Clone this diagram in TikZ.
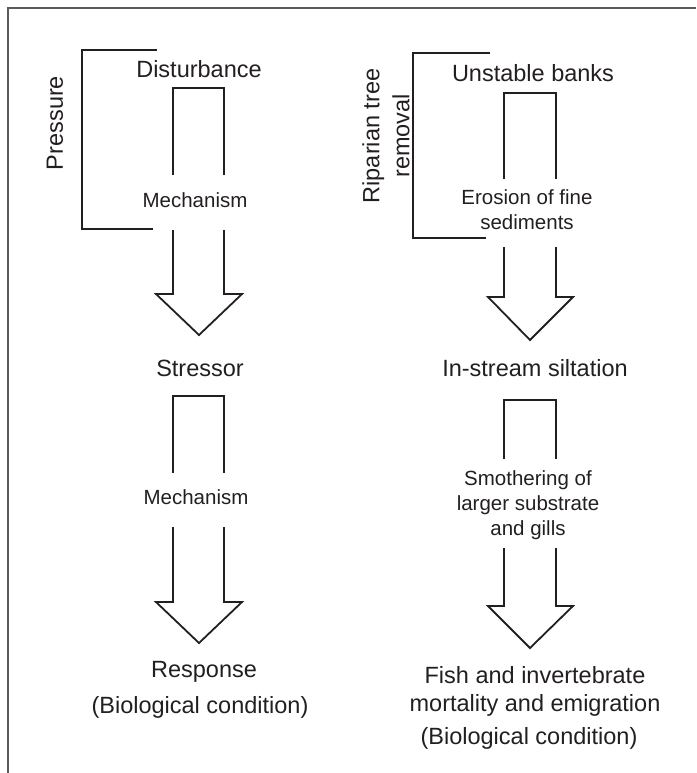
\documentclass[tikz,border=0pt]{standalone}
\usepackage{fontspec}
\setmainfont{Liberation Sans}
\definecolor{ink}{RGB}{35,31,32}
\definecolor{frame}{RGB}{90,90,90}

\begin{document}
\begin{tikzpicture}[x=1pt,y=-1pt,line width=1.8pt,draw=ink,
  big/.style={font=\fontsize{23.5}{30}\selectfont,text=ink,inner sep=0pt},
  small/.style={font=\fontsize{20.5}{25}\selectfont,text=ink,inner sep=0pt,align=center}]
\useasboundingbox (0,0) rectangle (696,773);
\draw[frame,line width=2pt] (8,773)--(8,8)--(696,8);
% left column: general model
\node[big,rotate=90] (press) at (55,123) {Pressure};
\node[big] (dist) at (199,69) {Disturbance};
\node[small] (mecha) at (195,200) {Mechanism};
\node[big] (stress) at (200,368) {Stressor};
\node[small] (mechb) at (196,497) {Mechanism};
\node[big] (resp) at (204,672) {Response};
\node[big] (respb) at (200,707) {(Biological condition)};
\draw[ink] (157,50)--(82,50)--(82,229)--(153,229);
\draw[ink] (173,175)--(173,88)--(224,88)--(224,175);
\draw[ink] (173,230)--(173,294)--(156,294)--(199,335)--(242,294)--(224,294)--(224,230);
\draw[ink] (173,473)--(173,396)--(224,396)--(224,473);
\draw[ink] (173,527)--(173,602)--(156,602)--(199,643)--(242,602)--(224,602)--(224,527);
% right column: siltation example
\node[big,rotate=90,align=center] (rip) at (386,136) {Riparian tree\\removal};
\node[big] (banks) at (533,73) {Unstable banks};
\node[small] (eros) at (527,210) {Erosion of fine\\sediments};
\node[big] (silt) at (535,368) {In-stream siltation};
\node[small] (smoth) at (528,505) {Smothering of\\larger substrate\\and gills};
\node[big,align=center] (fish) at (535,691) {Fish and invertebrate\\[-2pt]mortality and emigration};
\node[big] (fishb) at (529,738) {(Biological condition)};
\draw[ink] (490,53)--(413,53)--(413,238)--(486,238);
\draw[ink] (504,179)--(504,93)--(556,93)--(556,179);
\draw[ink] (504,247)--(504,297)--(488,297)--(530,340)--(573,297)--(556,297)--(556,247);
\draw[ink] (504,459)--(504,400)--(556,400)--(556,459);
\draw[ink] (504,548)--(504,606)--(488,606)--(530,648)--(573,606)--(556,606)--(556,548);
\end{tikzpicture}
\end{document}
